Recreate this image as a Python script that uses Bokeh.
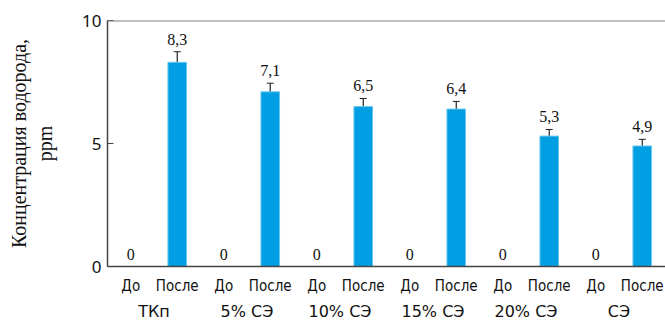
from bokeh.plotting import figure
from bokeh.models import (FactorRange, Whisker, ColumnDataSource, LabelSet, Span,
                          Range1d, FixedTicker, CategoricalAxis)
from bokeh.embed import file_html
from bokeh.resources import INLINE

groups = ["ТКп", "5% СЭ", "10% СЭ", "15% СЭ", "20% СЭ", "СЭ"]
subs = ["До", "После"]
before_vals = [0, 0, 0, 0, 0, 0]
after_vals = [8.3, 7.1, 6.5, 6.4, 5.3, 4.9]
after_err = [0.43, 0.35, 0.33, 0.31, 0.27, 0.27]
y_ticks = [0, 5, 10]

factors = [(g, s) for g in groups for s in subs]

def fmt(v):
    return ("%g" % v).replace(".", ",")

after_src = ColumnDataSource(dict(
    x=[(g, "После") for g in groups],
    top=after_vals,
    upper=[v + e for v, e in zip(after_vals, after_err)],
    lower=[v - e for v, e in zip(after_vals, after_err)],
    label=[fmt(v) for v in after_vals],
))
before_src = ColumnDataSource(dict(
    x=[(g, "До") for g in groups],
    top=before_vals,
    label=[fmt(v) for v in before_vals],
))

p = figure(width=665, height=323, output_backend="svg", toolbar_location=None,
           x_range=FactorRange(*factors, range_padding=0, group_padding=0, factor_padding=0),
           y_range=Range1d(0, 10),
           min_border_left=107, min_border_right=0, min_border_top=20, min_border_bottom=53)

# range for the group-name row (same span as the nested range)
p.extra_x_ranges = {"groups": FactorRange(*groups, range_padding=0, factor_padding=0)}

p.vbar(x="x", top="top", width=0.4, source=after_src,
       fill_color="#009FE3", line_color="#6CC6EE", line_width=1)

wh = Whisker(source=after_src, base="x", upper="upper", lower="lower",
             line_color="#222222", line_width=1.2)
wh.upper_head.size = 7
wh.lower_head.size = 7
wh.upper_head.line_color = "#222222"
wh.lower_head.line_color = "#222222"
p.add_layout(wh)

p.add_layout(LabelSet(x="x", y="upper", text="label", source=after_src,
                      text_align="center", text_baseline="bottom", y_offset=7,
                      text_font="DejaVu Sans", text_font_size="16px", text_color="#111111"))
p.add_layout(LabelSet(x="x", y="top", text="label", source=before_src,
                      text_align="center", text_baseline="bottom", y_offset=7,
                      text_font="DejaVu Sans", text_font_size="16px", text_color="#111111"))

p.add_layout(Span(location=10, dimension="width", line_color="#808080", line_width=2))

p.xgrid.visible = False
p.ygrid.visible = False
p.outline_line_color = None

xa = p.xaxis[0]
xa.axis_line_color = "#444444"
xa.axis_line_width = 1.5
xa.major_tick_line_color = None
xa.major_tick_out = 0
xa.major_tick_in = 0
xa.minor_tick_line_color = None
xa.major_label_text_font = "Liberation Sans Narrow, DejaVu Sans Condensed, Roboto"
xa.major_label_text_font_size = "15px"
xa.major_label_text_color = "#111111"
xa.major_label_standoff = 10
xa.group_text_font_size = "0px"
xa.group_text_alpha = 0
xa.separator_line_alpha = 0

grp_axis = CategoricalAxis(x_range_name="groups")
grp_axis.axis_line_color = None
grp_axis.major_tick_line_color = None
grp_axis.major_tick_out = 0
grp_axis.major_tick_in = 0
grp_axis.minor_tick_line_color = None
grp_axis.major_label_text_font = "DejaVu Sans"
grp_axis.major_label_text_font_size = "16px"
grp_axis.major_label_text_color = "#111111"
grp_axis.major_label_standoff = 4
p.add_layout(grp_axis, "below")

ya = p.yaxis[0]
ya.ticker = FixedTicker(ticks=y_ticks)
ya.axis_line_color = "#444444"
ya.axis_line_width = 1.5
ya.major_tick_in = 6
ya.major_tick_out = 0
ya.major_tick_line_color = "#444444"
ya.minor_tick_line_color = None
ya.major_label_text_font = "Noto Sans"
ya.major_label_text_font_size = "17px"
ya.major_label_text_color = "#111111"
ya.major_label_standoff = 6
ya.axis_label = "Концентрация водорода,\nppm"
ya.axis_label_text_font = "Liberation Serif"
ya.axis_label_text_font_size = "20px"
ya.axis_label_text_font_style = "normal"
ya.axis_label_text_color = "#111111"
ya.axis_label_standoff = 23

open("out.html", "w").write(file_html(p, INLINE))
